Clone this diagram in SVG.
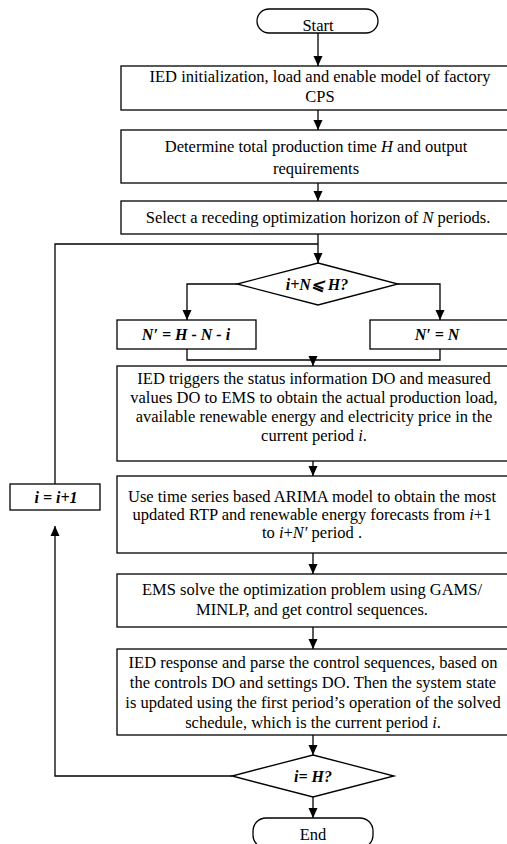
<svg xmlns="http://www.w3.org/2000/svg" width="507" height="844" viewBox="0 0 507 844">
<defs>
<marker id="ah" viewBox="0 0 10 10" refX="10" refY="5" markerWidth="10" markerHeight="10" markerUnits="userSpaceOnUse" orient="auto">
<path d="M0,0.5 L10,5 L0,9.5 Z" fill="#000"/>
</marker>
<style>
.b{fill:#fff;stroke:#000;stroke-width:1.3}
.t{font-family:"Liberation Serif","Times New Roman",serif;font-size:16.5px;fill:#000;text-anchor:middle}
.m{font-family:"Liberation Serif","Times New Roman",serif;font-size:16px;font-weight:bold;font-style:italic;fill:#000;text-anchor:middle}
.c{fill:none;stroke:#000;stroke-width:1.3}
</style>
</defs>
<rect width="507" height="844" fill="#fff"/>
<g id="connectors">
<path class="c" d="M318,33 V66" marker-end="url(#ah)"/>
<path class="c" d="M318,110 V130" marker-end="url(#ah)"/>
<path class="c" d="M318,183 V201" marker-end="url(#ah)"/>
<path class="c" d="M318,234 V263" marker-end="url(#ah)"/>
<path class="c" d="M237,284 H187 V320" marker-end="url(#ah)"/>
<path class="c" d="M398,284 H440 V320" marker-end="url(#ah)"/>
<path class="c" d="M187,349 V360 H440 V349"/>
<path class="c" d="M313,360 V366" marker-end="url(#ah)"/>
<path class="c" d="M313,461 V476" marker-end="url(#ah)"/>
<path class="c" d="M313,553 V574" marker-end="url(#ah)"/>
<path class="c" d="M313,627 V649" marker-end="url(#ah)"/>
<path class="c" d="M313,735 V755" marker-end="url(#ah)"/>
<path class="c" d="M313,797 V818" marker-end="url(#ah)"/>
<path class="c" d="M232,776 H55 V526" marker-end="url(#ah)"/>
<path class="c" d="M55,484 V244 H318"/>
</g>
<g id="start">
<rect class="b" x="257" y="9" width="121" height="24" rx="12"/>
<text class="t" x="318" y="31">Start</text>
</g>
<g id="init">
<rect class="b" x="121" y="66" width="398" height="44"/>
<text class="t" x="320" y="82">IED initialization, load and enable model of factory</text>
<text class="t" x="320" y="102">CPS</text>
</g>
<g id="determine">
<rect class="b" x="121" y="130" width="398" height="53"/>
<text class="t" x="316" y="152">Determine total production time <tspan font-style="italic">H</tspan> and output</text>
<text class="t" x="316" y="174">requirements</text>
</g>
<g id="select">
<rect class="b" x="121" y="201" width="398" height="33"/>
<text class="t" x="318" y="223">Select a receding optimization horizon of <tspan font-style="italic">N</tspan> periods.</text>
</g>
<g id="cond1">
<polygon class="b" points="318,263 398,284 318,305 237,284"/>
<text class="m" x="317" y="290">i+N⩽ H?</text>
</g>
<g id="nprime1">
<rect class="b" x="117" y="320" width="139" height="29"/>
<text class="m" x="186" y="340">N′ = H - N - i</text>
</g>
<g id="nprime2">
<rect class="b" x="370" y="320" width="140" height="29"/>
<text class="m" x="437" y="340">N′ = N</text>
</g>
<g id="trigger">
<rect class="b" x="117" y="366" width="398" height="95"/>
<text class="t" x="314" y="384">IED triggers the status information DO and measured</text>
<text class="t" x="314" y="403">values DO to EMS to obtain the actual production load,</text>
<text class="t" x="314" y="422">available renewable energy and electricity price in the</text>
<text class="t" x="314" y="441">current period <tspan font-style="italic">i</tspan>.</text>
</g>
<g id="arima">
<rect class="b" x="117" y="476" width="398" height="77"/>
<text class="t" x="312" y="502">Use time series based ARIMA model to obtain the most</text>
<text class="t" x="312" y="520">updated RTP and renewable energy forecasts from <tspan font-style="italic">i</tspan>+1</text>
<text class="t" x="312" y="538">to <tspan font-style="italic">i</tspan>+<tspan font-style="italic">N′</tspan> period .</text>
</g>
<g id="increment">
<rect class="b" x="10" y="484" width="90" height="26"/>
<text class="m" x="56" y="503">i = i+1</text>
</g>
<g id="solve">
<rect class="b" x="117" y="574" width="398" height="53"/>
<text class="t" x="312" y="595">EMS solve the optimization problem using GAMS/</text>
<text class="t" x="312" y="615">MINLP, and get control sequences.</text>
</g>
<g id="response">
<rect class="b" x="117" y="649" width="398" height="86"/>
<text class="t" x="313" y="668">IED response and parse the control sequences, based on</text>
<text class="t" x="313" y="688">the controls DO and settings DO. Then  the system state</text>
<text class="t" x="313" y="708">is updated using the first period’s operation of the solved</text>
<text class="t" x="313" y="728">schedule, which is the current period <tspan font-style="italic">i</tspan>.</text>
</g>
<g id="cond2">
<polygon class="b" points="313,755 394,776 313,797 232,776"/>
<text class="m" x="313" y="782">i= H?</text>
</g>
<g id="end">
<rect class="b" x="253" y="818" width="120" height="30" rx="13"/>
<text class="t" x="313" y="840">End</text>
</g>
</svg>
